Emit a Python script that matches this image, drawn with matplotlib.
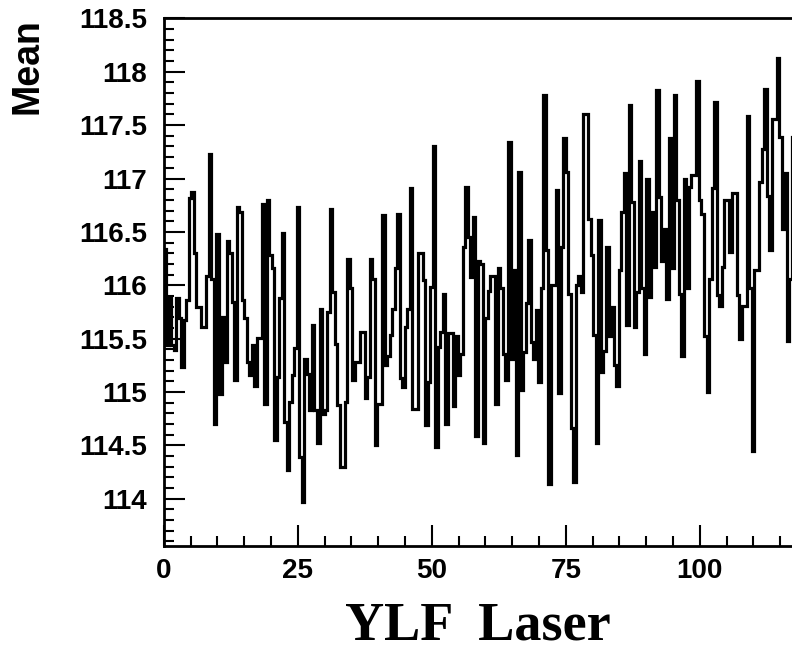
import numpy as np
import matplotlib.pyplot as plt
from matplotlib.ticker import MultipleLocator, FormatStrFormatter

# histogram range and binning (256 bins over 0-120, only the visible part is read)
x_lo, x_hi = 0.0, 120.0
n_bins = 256

mean = [
    116.34, 115.44, 115.88, 115.44, 115.39, 115.88, 115.69, 115.23, 115.67, 115.86,
    116.82, 116.87, 116.30, 115.80, 115.80, 115.61, 115.61, 116.09, 117.23, 116.06,
    114.70, 116.48, 114.98, 115.70, 115.28, 116.41, 116.30, 115.84, 115.11, 116.73,
    116.69, 115.86, 115.69, 115.28, 115.16, 115.44, 115.06, 115.51, 115.51, 116.76,
    114.89, 116.80, 116.28, 116.16, 114.55, 115.14, 115.88, 116.49, 114.72, 114.27,
    114.91, 115.16, 115.41, 116.73, 114.39, 113.97, 115.31, 115.17, 114.83, 115.63,
    114.83, 114.52, 115.78, 114.79, 114.83, 115.75, 116.71, 115.94, 115.45, 114.88,
    114.30, 114.30, 114.91, 116.25, 115.97, 115.11, 115.28, 115.28, 115.56, 115.56,
    114.94, 115.14, 116.25, 116.06, 114.50, 114.89, 114.89, 116.66, 115.25, 115.34,
    115.53, 115.78, 116.16, 116.67, 115.13, 115.05, 115.61, 115.78, 116.91, 114.84,
    114.84, 116.30, 116.30, 116.05, 114.69, 115.09, 115.98, 117.30, 114.48, 115.42,
    115.56, 115.92, 114.70, 115.55, 115.55, 114.87, 115.52, 115.16, 115.36, 116.36,
    116.92, 116.45, 116.08, 116.64, 114.59, 116.23, 116.20, 114.52, 115.69, 115.95,
    116.09, 116.09, 114.89, 116.16, 115.97, 115.36, 115.11, 117.34, 115.31, 116.14,
    114.41, 117.06, 115.02, 115.37, 115.83, 116.42, 115.47, 115.31, 115.77, 115.09,
    115.97, 117.78, 116.33, 114.14, 116.00, 116.00, 116.89, 114.99, 116.36, 117.38,
    117.06, 115.92, 114.66, 114.16, 116.00, 116.09, 115.94, 117.60, 117.60, 116.62,
    116.28, 115.53, 114.52, 116.61, 115.19, 115.38, 116.36, 115.52, 115.80, 115.25,
    115.06, 116.14, 116.69, 117.05, 115.63, 117.69, 116.78, 115.61, 115.94, 117.16,
    115.97, 115.36, 117.00, 115.89, 116.69, 116.17, 117.83, 116.83, 116.23, 116.53,
    115.87, 117.38, 116.16, 117.78, 116.80, 115.92, 115.34, 117.00, 115.97, 116.92,
    117.03, 117.03, 117.91, 116.80, 116.67, 115.52, 115.00, 116.06, 116.91, 117.72,
    115.91, 115.81, 116.17, 116.80, 116.80, 116.31, 116.86, 116.86, 115.91, 115.50,
    115.81, 115.81, 117.59, 115.97, 114.45, 116.14, 116.14, 116.97, 117.28, 117.84,
    116.84, 116.33, 117.56, 117.56, 118.13, 117.39, 116.53, 117.05, 115.48, 116.06,
    117.39,
]

edges = np.linspace(x_lo, x_hi, n_bins + 1)[:len(mean) + 1]

fig = plt.figure(figsize=(7.92, 6.48), dpi=100)
# frame runs past the right edge of the picture, like the original crop
ax = fig.add_axes([0.2067, 0.1579, 0.8123, 0.8137])

ax.stairs(mean, edges, color="black", linewidth=2.3, baseline=None)

ax.set_xlim(x_lo, x_hi)
ax.set_ylim(113.56, 118.5)

ax.xaxis.set_major_locator(MultipleLocator(25))
ax.xaxis.set_minor_locator(MultipleLocator(5))
ax.yaxis.set_major_locator(MultipleLocator(0.5))
ax.yaxis.set_minor_locator(MultipleLocator(0.1))
ax.yaxis.set_major_formatter(FormatStrFormatter("%g"))

ax.tick_params(which="both", direction="in", top=False, right=False, width=1.5)
ax.tick_params(which="major", length=15)
ax.tick_params(which="minor", length=7.5)
ax.tick_params(axis="y", pad=12)
ax.tick_params(axis="x", pad=9)
for lab in ax.get_xticklabels() + ax.get_yticklabels():
    lab.set_fontfamily("Liberation Sans")
    lab.set_fontweight("bold")
    lab.set_fontsize(20)

for sp in ax.spines.values():
    sp.set_linewidth(2)

fig.text(28 / 792, 1 - 18 / 648, "Mean", rotation=90, ha="center", va="top",
         fontsize=27, fontweight="bold", family="Liberation Sans")
fig.text(478 / 792, 1 - 640 / 648, "YLF  Laser", ha="center", va="baseline",
         fontsize=39, fontweight="bold", family="Liberation Serif")

fig.savefig("out.png", dpi=100)
